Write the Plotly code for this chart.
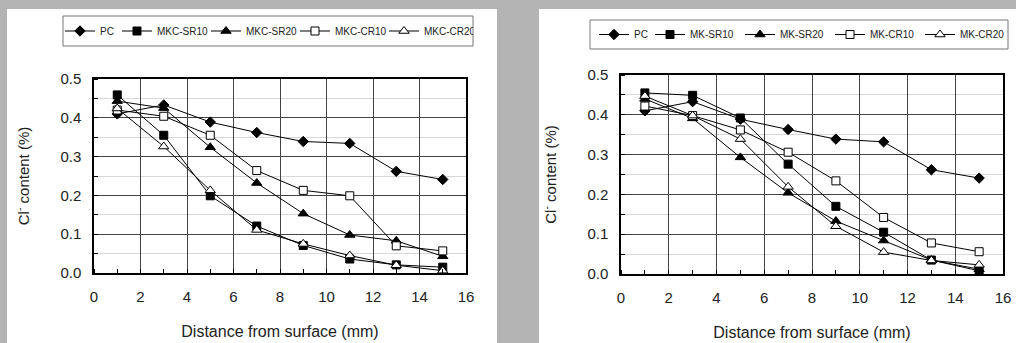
import plotly.graph_objects as go

x_depth = [1, 3, 5, 7, 9, 11, 13, 15]

# Left panel (MKC series)
left_names = ["PC", "MKC-SR10", "MKC-SR20", "MKC-CR10", "MKC-CR20"]
left_pc = [0.410, 0.433, 0.389, 0.362, 0.339, 0.334, 0.262, 0.241]
left_sr10 = [0.459, 0.355, 0.199, 0.121, 0.071, 0.036, 0.021, 0.015]
left_sr20 = [0.443, 0.425, 0.324, 0.232, 0.153, 0.098, 0.083, 0.043]
left_cr10 = [0.420, 0.404, 0.355, 0.264, 0.213, 0.199, 0.070, 0.057]
left_cr20 = [0.424, 0.326, 0.213, 0.111, 0.075, 0.045, 0.020, 0.006]

# Right panel (MK series)
right_names = ["PC", "MK-SR10", "MK-SR20", "MK-CR10", "MK-CR20"]
right_pc = [0.410, 0.433, 0.389, 0.363, 0.339, 0.332, 0.262, 0.241]
right_sr10 = [0.455, 0.449, 0.392, 0.276, 0.170, 0.105, 0.035, 0.008]
right_sr20 = [0.440, 0.391, 0.293, 0.204, 0.133, 0.084, 0.035, 0.012]
right_cr10 = [0.422, 0.398, 0.362, 0.306, 0.234, 0.142, 0.078, 0.056]
right_cr20 = [0.447, 0.398, 0.339, 0.219, 0.120, 0.055, 0.034, 0.023]

x_ticks = [0, 2, 4, 6, 8, 10, 12, 14, 16]
y_ticks = [0.0, 0.1, 0.2, 0.3, 0.4, 0.5]

W, H = 1016, 343
FONT = "Liberation Sans, Arial, sans-serif"

styles = [
    dict(symbol="diamond", size=8, color="black"),
    dict(symbol="square", size=8, color="black"),
    dict(symbol="triangle-up", size=9, color="black"),
    dict(symbol="square", size=8, color="white"),
    dict(symbol="triangle-up", size=9, color="white"),
]

fig = go.Figure()


def add_panel(names, series, xa, ya, legend, widths):
    for name, vals, st, lw in zip(names, series, styles, widths):
        fig.add_trace(go.Scatter(
            x=x_depth, y=vals, name=name, mode="lines+markers",
            xaxis=xa, yaxis=ya, legend=legend, legendwidth=lw,
            line=dict(color="black", width=1),
            marker=dict(symbol=st["symbol"], size=st["size"], color=st["color"],
                        line=dict(color="black", width=1)),
        ))


add_panel(left_names, [left_pc, left_sr10, left_sr20, left_cr10, left_cr20],
          "x", "y", "legend", [12, 44, 44, 44, 44])
add_panel(right_names, [right_pc, right_sr10, right_sr20, right_cr10, right_cr20],
          "x2", "y2", "legend2", [11, 45, 45, 45, 45])


def px(v):
    return v / W


def py(v):
    return 1 - v / H


axis_common = dict(
    showline=True, linecolor="black", linewidth=1.5, mirror=True,
    showgrid=True, gridcolor="#444444", gridwidth=1,
    zeroline=False, ticks="", automargin=False,
    tickfont=dict(family=FONT, size=15, color="#222"),
)

xaxis_kw = dict(axis_common, range=[0, 16], tickvals=x_ticks, ticklabelstandoff=9,
                minor=dict(dtick=1, tick0=0, ticks="inside", ticklen=4,
                           tickcolor="black", showgrid=False),
                title=dict(text="Distance from surface (mm)", standoff=22,
                           font=dict(family=FONT, size=16, color="#222")))
yaxis_kw = dict(axis_common, range=[0, 0.5], tickvals=y_ticks, tickformat=".1f",
                ticklabelstandoff=8,
                minor=dict(dtick=0.05, tick0=0, ticks="inside", ticklen=4,
                           tickcolor="black", showgrid=True, gridcolor="#d8d8d8"),
                title=dict(text="Cl<sup>-</sup> content (%)", standoff=27,
                           font=dict(family=FONT, size=15, color="#222")))

legend_common = dict(orientation="h", xanchor="left", yanchor="middle",
                     bgcolor="rgba(0,0,0,0)", borderwidth=0,
                     font=dict(family=FONT, size=10, color="#222"),
                     itemwidth=30, tracegroupgap=0)

fig.update_layout(
    width=W, height=H,
    margin=dict(l=0, r=0, t=0, b=0),
    paper_bgcolor="#b4b4b4",
    plot_bgcolor="white",
    font=dict(family=FONT, color="#222"),
    xaxis=dict(xaxis_kw, domain=[px(94), px(466)], anchor="y"),
    yaxis=dict(yaxis_kw, domain=[py(273), py(79)], anchor="x"),
    xaxis2=dict(xaxis_kw, domain=[px(621), px(1003)], anchor="y2"),
    yaxis2=dict(yaxis_kw, domain=[py(274), py(75)], anchor="x2"),
    legend=dict(legend_common, x=px(60), y=py(31)),
    legend2=dict(legend_common, x=px(594), y=py(34.5)),
    shapes=[
        dict(type="rect", xref="paper", yref="paper", x0=px(7), x1=px(497), y0=0, y1=py(9),
             fillcolor="white", line=dict(width=0), layer="below"),
        dict(type="rect", xref="paper", yref="paper", x0=px(539), x1=1, y0=0, y1=py(9),
             fillcolor="white", line=dict(width=0), layer="below"),
        dict(type="rect", xref="paper", yref="paper", x0=px(63), x1=px(473), y0=py(46), y1=py(16),
             fillcolor="rgba(0,0,0,0)", line=dict(width=1, color="#777")),
        dict(type="rect", xref="paper", yref="paper", x0=px(590), x1=px(1008), y0=py(49), y1=py(20),
             fillcolor="rgba(0,0,0,0)", line=dict(width=1, color="#777")),
    ],
)

fig.write_html("out.html")
